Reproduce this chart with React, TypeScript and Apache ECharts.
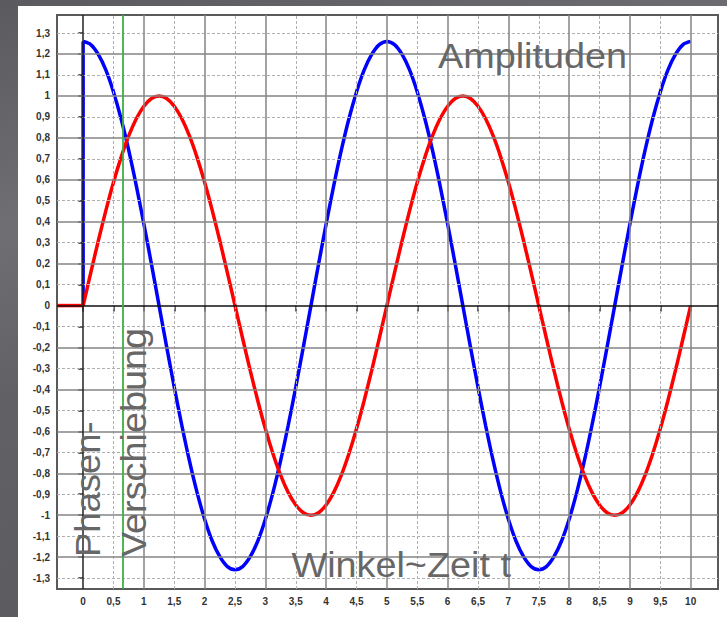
import React, { useEffect, useRef } from "react";
import * as echarts from "echarts";

// time / angle samples (x axis), one every 0.125
const tValues = [
  0, 0.125, 0.25, 0.375, 0.5, 0.625, 0.75, 0.875, 1, 1.125, 1.25, 1.375, 1.5, 1.625, 1.75, 1.875,
  2, 2.125, 2.25, 2.375, 2.5, 2.625, 2.75, 2.875, 3, 3.125, 3.25, 3.375, 3.5, 3.625, 3.75, 3.875,
  4, 4.125, 4.25, 4.375, 4.5, 4.625, 4.75, 4.875, 5, 5.125, 5.25, 5.375, 5.5, 5.625, 5.75, 5.875,
  6, 6.125, 6.25, 6.375, 6.5, 6.625, 6.75, 6.875, 7, 7.125, 7.25, 7.375, 7.5, 7.625, 7.75, 7.875,
  8, 8.125, 8.25, 8.375, 8.5, 8.625, 8.75, 8.875, 9, 9.125, 9.25, 9.375, 9.5, 9.625, 9.75, 9.875, 10,
];
// blue wave (amplitude ~1.26)
const blueValues = [
  1.26, 1.245, 1.198, 1.123, 1.019, 0.891, 0.741, 0.572, 0.389, 0.197, 0, -0.197, -0.389, -0.572, -0.741, -0.891,
  -1.019, -1.123, -1.198, -1.245, -1.26, -1.245, -1.198, -1.123, -1.019, -0.891, -0.741, -0.572, -0.389, -0.197, 0, 0.197,
  0.389, 0.572, 0.741, 0.891, 1.019, 1.123, 1.198, 1.245, 1.26, 1.245, 1.198, 1.123, 1.019, 0.891, 0.741, 0.572,
  0.389, 0.197, 0, -0.197, -0.389, -0.572, -0.741, -0.891, -1.019, -1.123, -1.198, -1.245, -1.26, -1.245, -1.198, -1.123,
  -1.019, -0.891, -0.741, -0.572, -0.389, -0.197, 0, 0.197, 0.389, 0.572, 0.741, 0.891, 1.019, 1.123, 1.198, 1.245, 1.26,
];
// red wave (amplitude 1)
const redValues = [
  0, 0.156, 0.309, 0.454, 0.588, 0.707, 0.809, 0.891, 0.951, 0.988, 1, 0.988, 0.951, 0.891, 0.809, 0.707,
  0.588, 0.454, 0.309, 0.156, 0, -0.156, -0.309, -0.454, -0.588, -0.707, -0.809, -0.891, -0.951, -0.988, -1, -0.988,
  -0.951, -0.891, -0.809, -0.707, -0.588, -0.454, -0.309, -0.156, 0, 0.156, 0.309, 0.454, 0.588, 0.707, 0.809, 0.891,
  0.951, 0.988, 1, 0.988, 0.951, 0.891, 0.809, 0.707, 0.588, 0.454, 0.309, 0.156, 0, -0.156, -0.309, -0.454,
  -0.588, -0.707, -0.809, -0.891, -0.951, -0.988, -1, -0.988, -0.951, -0.891, -0.809, -0.707, -0.588, -0.454, -0.309, -0.156, 0,
];
const blueStart = [
  [0, 0],
  [0, 1.26],
];
const redLead = [
  [-0.43, 0],
  [0, 0],
];
const phaseShiftX = 0.66;

// tick labels
const xTicks = [0, 0.5, 1, 1.5, 2, 2.5, 3, 3.5, 4, 4.5, 5, 5.5, 6, 6.5, 7, 7.5, 8, 8.5, 9, 9.5, 10];
const yTicks = [
  -1.3, -1.2, -1.1, -1, -0.9, -0.8, -0.7, -0.6, -0.5, -0.4, -0.3, -0.2, -0.1, 0, 0.1, 0.2, 0.3, 0.4, 0.5, 0.6, 0.7, 0.8,
  0.9, 1, 1.1, 1.2, 1.3,
];
const xMajorGrid = [1, 2, 3, 4, 5, 6, 7, 8, 9, 10];
const xMinorGrid = [0.5, 1.5, 2.5, 3.5, 4.5, 5.5, 6.5, 7.5, 8.5, 9.5];
const yMajorGrid = [-1.2, -1, -0.8, -0.6, -0.4, -0.2, 0.2, 0.4, 0.6, 0.8, 1, 1.2];
const yMinorGrid = [-1.3, -1.1, -0.9, -0.7, -0.5, -0.3, -0.1, 0.1, 0.3, 0.5, 0.7, 0.9, 1.1, 1.3];

const fmt = (v: number) => String(Math.round(v * 10) / 10).replace(".", ",");

export default function App() {
  const ref = useRef<HTMLDivElement>(null);
  useEffect(() => {
    if (!ref.current) return;
    const chart = echarts.init(ref.current, undefined, { renderer: "svg" });
    const major = { color: "#858585", width: 1.5, type: "solid" };
    const minor = { color: "#b0b0b0", width: 1, type: [3, 2] };
    const gridLines: any[] = [
      ...xMinorGrid.map((v) => ({ xAxis: v, lineStyle: minor })),
      ...yMinorGrid.map((v) => ({ yAxis: v, lineStyle: minor })),
      ...xMajorGrid.map((v) => ({ xAxis: v, lineStyle: major })),
      ...yMajorGrid.map((v) => ({ yAxis: v, lineStyle: major })),
      { yAxis: 0, lineStyle: { color: "#111", width: 1.5, type: "solid" } },
      { xAxis: 0, lineStyle: { color: "#222", width: 1.5, type: "solid" } },
      { xAxis: phaseShiftX, lineStyle: { color: "#3cb043", width: 1.8, type: "solid" } },
    ];
    const textStyle = {
      fill: "#676767",
      fontSize: 35,
      fontFamily: "Liberation Sans, Arial, sans-serif",
      verticalAlign: "middle",
      align: "left",
    };
    const labelStyle = {
      formatter: fmt,
      fontSize: 10,
      fontWeight: "bold",
      color: "#333",
      fontFamily: "Liberation Sans, Arial, sans-serif",
    };
    chart.setOption({
      animation: false,
      grid: {
        left: 39,
        top: 9,
        right: 9,
        bottom: 28,
        show: true,
        borderColor: "#5a5a5a",
        borderWidth: 2,
        backgroundColor: "#ffffff",
      },
      xAxis: {
        type: "value",
        min: -0.43,
        max: 10.45,
        offset: 2,
        axisLine: { show: false },
        splitLine: { show: false },
        axisTick: {
          show: true,
          customValues: xTicks,
          length: 6,
          lineStyle: { color: "#333", width: 1.5 },
        },
        axisLabel: { ...labelStyle, customValues: xTicks, margin: 5 },
      },
      yAxis: {
        type: "value",
        min: -1.352,
        max: 1.386,
        offset: 4,
        axisLine: { show: false },
        splitLine: { show: false },
        axisTick: {
          show: true,
          customValues: yTicks,
          length: 5,
          lineStyle: { color: "#333", width: 1.5 },
        },
        axisLabel: { ...labelStyle, customValues: yTicks, margin: 3 },
      },
      graphic: [
        { type: "text", x: 420, y: 49.5, scaleX: 1.08, z: 10, style: { ...textStyle, text: "Amplituden" } },
        { type: "text", x: 273.5, y: 559, scaleX: 1.08, z: 10, style: { ...textStyle, text: "Winkel~Zeit t" } },
        { type: "text", x: 70.5, y: 551, rotation: Math.PI / 2, scaleX: 1.04, z: 10, style: { ...textStyle, text: "Phasen-" } },
        { type: "text", x: 116, y: 551, rotation: Math.PI / 2, scaleX: 1.08, z: 10, style: { ...textStyle, text: "Verschiebung" } },
      ],
      series: [
        {
          type: "line",
          data: [],
          z: 1,
          silent: true,
          markLine: {
            silent: true,
            symbol: ["none", "none"],
            label: { show: false },
            emphasis: { disabled: true },
            data: gridLines,
          },
        },
        {
          type: "line",
          data: blueStart,
          z: 3,
          showSymbol: false,
          lineStyle: { color: "#0000ff", width: 3.5 },
        },
        {
          type: "line",
          data: tValues.map((t, i) => [t, blueValues[i]]),
          z: 3,
          smooth: 0.3,
          showSymbol: false,
          lineStyle: { color: "#0000ff", width: 3.5 },
        },
        {
          type: "line",
          data: redLead,
          z: 4,
          showSymbol: false,
          lineStyle: { color: "#ff0000", width: 3.5 },
        },
        {
          type: "line",
          data: tValues.map((t, i) => [t, redValues[i]]),
          z: 4,
          smooth: 0.3,
          showSymbol: false,
          lineStyle: { color: "#ff0000", width: 3.5 },
        },
      ],
    });
    return () => chart.dispose();
  }, []);
  return (
    <div
      style={{
        position: "fixed",
        left: 0,
        top: 0,
        width: 727,
        height: 617,
        background: "linear-gradient(165deg, #5b5a5f 0%, #6f6e73 28%, #616065 50%, #58575c 100%)",
      }}
    >
      <div
        ref={ref}
        style={{ position: "absolute", left: 18, top: 6, width: 709, height: 611, background: "#ffffff" }}
      />
    </div>
  );
}
